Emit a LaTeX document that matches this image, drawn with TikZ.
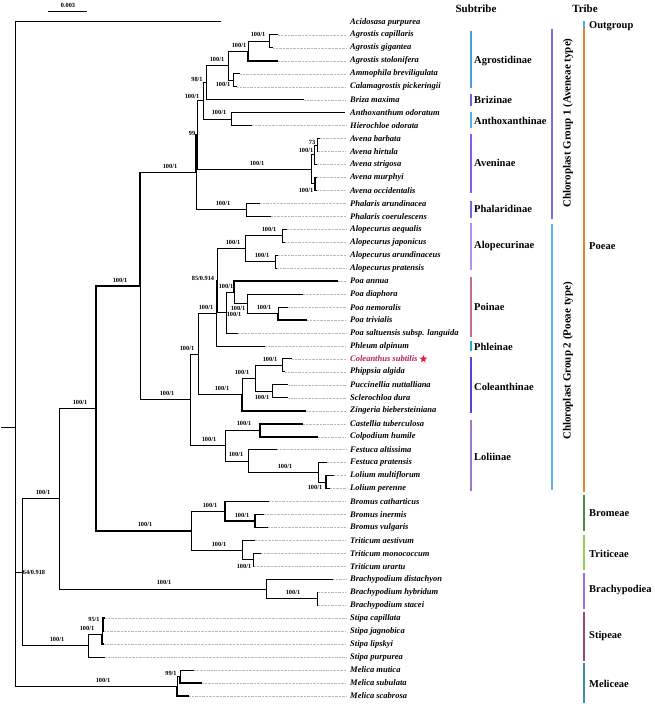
\documentclass[tikz,border=0pt]{standalone}
\usepackage{fontspec}
\setmainfont{Liberation Serif}
\usetikzlibrary{positioning,shapes.geometric}

% colours of the bars
\definecolor{agrC}{HTML}{4A9FD8}
\definecolor{brizC}{HTML}{7B5CD6}
\definecolor{anthC}{HTML}{57B0E0}
\definecolor{aveC}{HTML}{8B5CE6}
\definecolor{phalC}{HTML}{6A6AD8}
\definecolor{aloC}{HTML}{BD8DEB}
\definecolor{poaC}{HTML}{C0708E}
\definecolor{phlC}{HTML}{2FA5C8}
\definecolor{colC}{HTML}{5A3FE0}
\definecolor{lolC}{HTML}{9C7AC8}
\definecolor{grpaC}{HTML}{7C6CE8}
\definecolor{grpbC}{HTML}{5CB4EA}
\definecolor{outC}{HTML}{3AB4E6}
\definecolor{poeC}{HTML}{E2812E}
\definecolor{bromC}{HTML}{4E8A3C}
\definecolor{tritC}{HTML}{9CCB5E}
\definecolor{brachC}{HTML}{9C6EE6}
\definecolor{stipC}{HTML}{A0457C}
\definecolor{melC}{HTML}{3A8FA6}
\definecolor{colTxt}{HTML}{B81E5C}
\definecolor{starC}{HTML}{D8243E}

\tikzset{
  branch/.style={line width=1pt},
  heavy/.style={line width=1.7pt},
  guide/.style={densely dotted, line width=0.4pt, gray!55, shorten >=4pt},
  taxon/.style={anchor=west, inner sep=0pt, font=\fontsize{8.5}{9}\selectfont\bfseries\itshape},
  supp/.style={inner sep=0pt, font=\fontsize{6.3}{6.5}\selectfont\bfseries},
  bar/.style={line width=1.4pt},
  tribebar/.style={line width=2.4pt},
  grouplabel/.style={anchor=west, inner sep=0pt, font=\fontsize{10.5}{12}\selectfont\bfseries},
  head/.style={inner sep=0pt, font=\fontsize{11}{12}\selectfont\bfseries},
}

\begin{document}
\begin{tikzpicture}[x=1pt, y=-1pt]
    \useasboundingbox (0,0) rectangle (654,708);

    % Scale bar
    \coordinate (scaleL) at (48,11);
    \coordinate (scaleR) at (87,11);
    \draw[line width=0.6pt] (scaleL) -- (scaleR);
    \node[supp] (scale) at (68,5) {0.003};

    % Headers
    \node[head] (subtribe) at (476,9) {Subtribe};
    \node[head] (tribe) at (585,9) {Tribe};

    % Taxa: tip ends and names
    \foreach \name/\tx/\col [count=\i] in {
        Acidosasa purpurea/221/black, Agrostis capillaris/278/black,
        Agrostis gigantea/273/black, Agrostis stolonifera/278/black,
        Ammophila breviligulata/240/black, Calamagrostis pickeringii/237/black,
        Briza maxima/304/black, Anthoxanthum odoratum/345/black,
        Hierochloe odorata/252/black, Avena barbata/320/black,
        Avena hirtula/318/black, Avena strigosa/317/black,
        Avena murphyi/317/black, Avena occidentalis/317/black,
        Phalaris arundinacea/260/black, Phalaris coerulescens/271/black,
        Alopecurus aequalis/287/black, Alopecurus japonicus/285/black,
        Alopecurus arundinaceus/278/black, Alopecurus pratensis/277/black,
        Poa annua/338/black, Poa diaphora/303/black,
        Poa nemoralis/288/black, Poa trivialis/307/black,
        Poa saltuensis subsp. languida/238/black, Phleum alpinum/265/black,
        Coleanthus subtilis/292/colTxt, Phippsia algida/285/black,
        Puccinellia nuttalliana/288/black, Sclerochloa dura/288/black,
        Zingeria biebersteiniana/306/black, Castellia tuberculosa/303/black,
        Colpodium humile/318/black, Festuca altissima/277/black,
        Festuca pratensis/327/black, Lolium multiflorum/334/black,
        Lolium perenne/330/black, Bromus catharticus/269/black,
        Bromus inermis/264/black, Bromus vulgaris/268/black,
        Triticum aestivum/255/black, Triticum monococcum/261/black,
        Triticum urartu/254/black, Brachypodium distachyon/333/black,
        Brachypodium hybridum/318/black, Brachypodium stacei/318/black,
        Stipa capillata/105/black, Stipa jagnobica/104/black,
        Stipa lipskyi/104/black, Stipa purpurea/105/black,
        Melica mutica/194/black, Melica subulata/202/black,
        Melica scabrosa/189/black}
    {
        \coordinate (t\i) at (\tx, {22+(\i-1)*12.96});
        \node[taxon, text=\col] (sp\i) at (350, {22+(\i-1)*12.96}) {\name};
    }
    \node[star, star points=5, star point ratio=2.2, fill=starC, inner sep=0pt,
          minimum size=8pt, right=3pt of sp27] (mark) {};

    % Dotted guides from tips to names
    \foreach \i in {2,...,7,9,10,...,53}
        \draw[guide] (t\i) -- (sp\i.west);

    % Internal nodes
    \coordinate (stem) at (1,427);
    \coordinate (root) at (15,427);
    \coordinate (pooid) at (22,572.21);
    \coordinate (core2) at (59,498.72);
    \coordinate (core) at (96,408.44);
    \coordinate (poeae) at (140,286.19);
    \coordinate (grp1) at (196,172.56);
    \coordinate (grpA) at (197,135.20);
    \coordinate (agr6) at (203,100.98);
    \coordinate (agr5) at (206,82.75);
    \coordinate (agr4) at (228,65.74);
    \coordinate (agr2) at (248,51.16);
    \coordinate (agr1) at (269,41.44);
    \coordinate (agr3) at (233,80.32);
    \coordinate (anth) at (231,119.20);
    \coordinate (ave) at (311,169.42);
    \coordinate (ave2) at (314,154.84);
    \coordinate (ave1) at (317,145.12);
    \coordinate (ave3) at (315,184.00);
    \coordinate (phal) at (246,209.92);
    \coordinate (grp2) at (190,399.82);
    \coordinate (aphc) at (198,354.00);
    \coordinate (apl) at (216,313.40);
    \coordinate (alopoa) at (217,280.80);
    \coordinate (alo) at (245,248.80);
    \coordinate (alo1) at (282,235.84);
    \coordinate (alo2) at (275,261.76);
    \coordinate (poa4) at (226,312.79);
    \coordinate (poa3) at (234,292.54);
    \coordinate (poa2) at (247,303.88);
    \coordinate (poa1) at (278,313.60);
    \coordinate (col) at (242,394.60);
    \coordinate (col3) at (255,378.40);
    \coordinate (col1) at (282,365.44);
    \coordinate (col2) at (272,391.36);
    \coordinate (lol) at (225,445.63);
    \coordinate (lol1) at (260,430.24);
    \coordinate (lol2) at (248,461.02);
    \coordinate (lol3) at (318,472.36);
    \coordinate (lol4) at (326,482.08);
    \coordinate (bt) at (191,530.68);
    \coordinate (brom) at (225,511.24);
    \coordinate (brom1) at (255,520.96);
    \coordinate (trit) at (242,550.12);
    \coordinate (trit1) at (253,559.84);
    \coordinate (brach) at (266,589.00);
    \coordinate (brach1) at (317,598.72);
    \coordinate (stip) at (88,645.70);
    \coordinate (stip2) at (102,634.36);
    \coordinate (stip1) at (103,624.64);
    \coordinate (mel) at (177,686.20);
    \coordinate (mel1) at (180,676.48);

    % Branches
    \draw[branch] (stem) -- (root);
    \foreach \p/\c in {root/t1, root/pooid, root/mel, pooid/core2, pooid/stip,
        core2/core, core2/brach, grp1/phal, grpA/agr6,
        agr6/agr5, agr6/anth, agr5/agr4, agr5/t7, agr4/agr2, agr4/agr3,
        agr2/agr1, agr1/t2, agr1/t3, agr3/t5, agr3/t6, anth/t8, anth/t9,
        ave/ave2, ave/ave3, ave2/ave1, ave2/t12, ave1/t10, ave1/t11,
        phal/t15, phal/t16, poeae/grp2, grp2/aphc, grp2/lol, aphc/apl, aphc/col,
        apl/alopoa, apl/t26, alopoa/alo, alopoa/poa4, alo/alo1, alo/alo2,
        alo1/t17, alo1/t18, alo2/t19, alo2/t20, poa4/poa3, poa4/t25,
        poa3/poa2, poa2/t22, poa2/poa1, poa1/t23, col/col3, col3/col1,
        col3/col2, col1/t27, col1/t28, col2/t29, col2/t30, lol/lol1, lol/lol2,
        lol2/t34, lol2/lol3, lol3/t35, lol3/lol4, bt/brom, bt/trit,
        trit/t41, trit/trit1, trit1/t42, trit1/t43, brach/t44, brach/brach1,
        brach1/t45, brach1/t46, stip/stip2, stip/t50, stip2/stip1,
        stip1/t48, mel/mel1, mel1/t51}
        \draw[branch] (\p) |- (\c);
    \foreach \p/\c in {core/poeae, core/bt, poeae/grp1, grp1/grpA, grpA/ave,
        agr2/t4, ave3/t13, ave3/t14, poa3/t21, poa1/t24, col/t31,
        lol1/t32, lol1/t33, lol4/t36, lol4/t37, brom/t38, brom/brom1,
        brom1/t39, brom1/t40, stip2/t49, stip1/t47, mel1/t52, mel/t53}
        \draw[heavy] (\p) |- (\c);

    % Support values
    \foreach \x/\y/\s [count=\k] in {258/34/{100/1}, 239/45/{100/1},
        217/59/{100/1}, 223/84/{100/1}, 197/79/{98/1}, 192/96/{100/1},
        219/112/{100/1}, 192/133/{99}, 312/142/{73}, 306/150/{100/1},
        306/190/{100/1}, 257/163/{100/1}, 170/166/{100/1}, 223/203/{100/1},
        120/280/{100/1}, 269/229/{100/1}, 233/242/{100/1}, 262/255/{100/1},
        203/278/{85/0.914}, 226/286/{100/1}, 206/307/{100/1}, 238/308/{100/1},
        234/314/{100/1}, 264/307/{100/1}, 187/348/{100/1}, 270/359/{100/1},
        242/372/{100/1}, 222/388/{100/1}, 262/397/{100/1}, 244/423/{100/1},
        209/439/{100/1}, 236/454/{100/1}, 285/466/{100/1}, 315/487/{100/1},
        167/393/{100/1}, 80/402/{100/1}, 43/492/{100/1}, 210/505/{100/1},
        242/515/{100/1}, 145/524/{100/1}, 219/544/{100/1}, 244/566/{100/1},
        34/572/{64/0.918}, 164/582/{100/1}, 293/592/{100/1}, 94/619/{95/1},
        87/628/{100/1}, 57/639/{100/1}, 171/673/{99/1}, 103/680/{100/1}}
        \node[supp] (bs\k) at (\x,\y) {\s};

    % Subtribe bars
    \draw[bar, agrC] (471,31) -- (471,88);
    \draw[bar, brizC] (471,94) -- (471,106);
    \draw[bar, anthC] (471,112) -- (471,128);
    \draw[bar, aveC] (471,134) -- (471,193);
    \draw[bar, phalC] (471,201) -- (471,218);
    \draw[bar, aloC] (471,223) -- (471,270);
    \draw[bar, poaC] (471,277) -- (471,337);
    \draw[bar, phlC] (471,341) -- (471,351);
    \draw[bar, colC] (471,357) -- (471,413);
    \draw[bar, lolC] (471,420) -- (471,491);
    \node[grouplabel] (agrL) at (474,61) {Agrostidinae};
    \node[grouplabel] (brizL) at (474,100) {Brizinae};
    \node[grouplabel] (anthL) at (474,121) {Anthoxanthinae};
    \node[grouplabel] (aveL) at (474,163) {Aveninae};
    \node[grouplabel] (phalL) at (474,209) {Phalaridinae};
    \node[grouplabel] (aloL) at (474,246) {Alopecurinae};
    \node[grouplabel] (poaL) at (474,307) {Poinae};
    \node[grouplabel] (phlL) at (474,347) {Phleinae};
    \node[grouplabel] (colL) at (474,387) {Coleanthinae};
    \node[grouplabel] (lolL) at (474,457) {Loliinae};

    % Chloroplast groups
    \draw[bar, grpaC] (552,29) -- (552,219);
    \draw[bar, grpbC] (552,224) -- (552,490);
    \node[head, rotate=90] (grpaL) at (568,123) {Chloroplast Group 1 (Aveneae type)};
    \node[head, rotate=90] (grpbL) at (568,361) {Chloroplast Group 2 (Poeae type)};

    % Tribe bars
    \draw[tribebar, outC] (584,21) -- (584,28);
    \draw[tribebar, poeC] (584,28) -- (584,492);
    \draw[tribebar, bromC] (584,495) -- (584,531);
    \draw[tribebar, tritC] (584,535) -- (584,570);
    \draw[tribebar, brachC] (584,573) -- (584,609);
    \draw[tribebar, stipC] (584,612) -- (584,661);
    \draw[tribebar, melC] (584,663) -- (584,703);
    \node[grouplabel] (outL) at (589,26) {Outgroup};
    \node[grouplabel] (poeL) at (589,246) {Poeae};
    \node[grouplabel] (bromL) at (589,513) {Bromeae};
    \node[grouplabel] (tritL) at (589,554) {Triticeae};
    \node[grouplabel] (brachL) at (589,590) {Brachypodiea};
    \node[grouplabel] (stipL) at (589,636) {Stipeae};
    \node[grouplabel] (melL) at (589,684) {Meliceae};
\end{tikzpicture}
\end{document}
